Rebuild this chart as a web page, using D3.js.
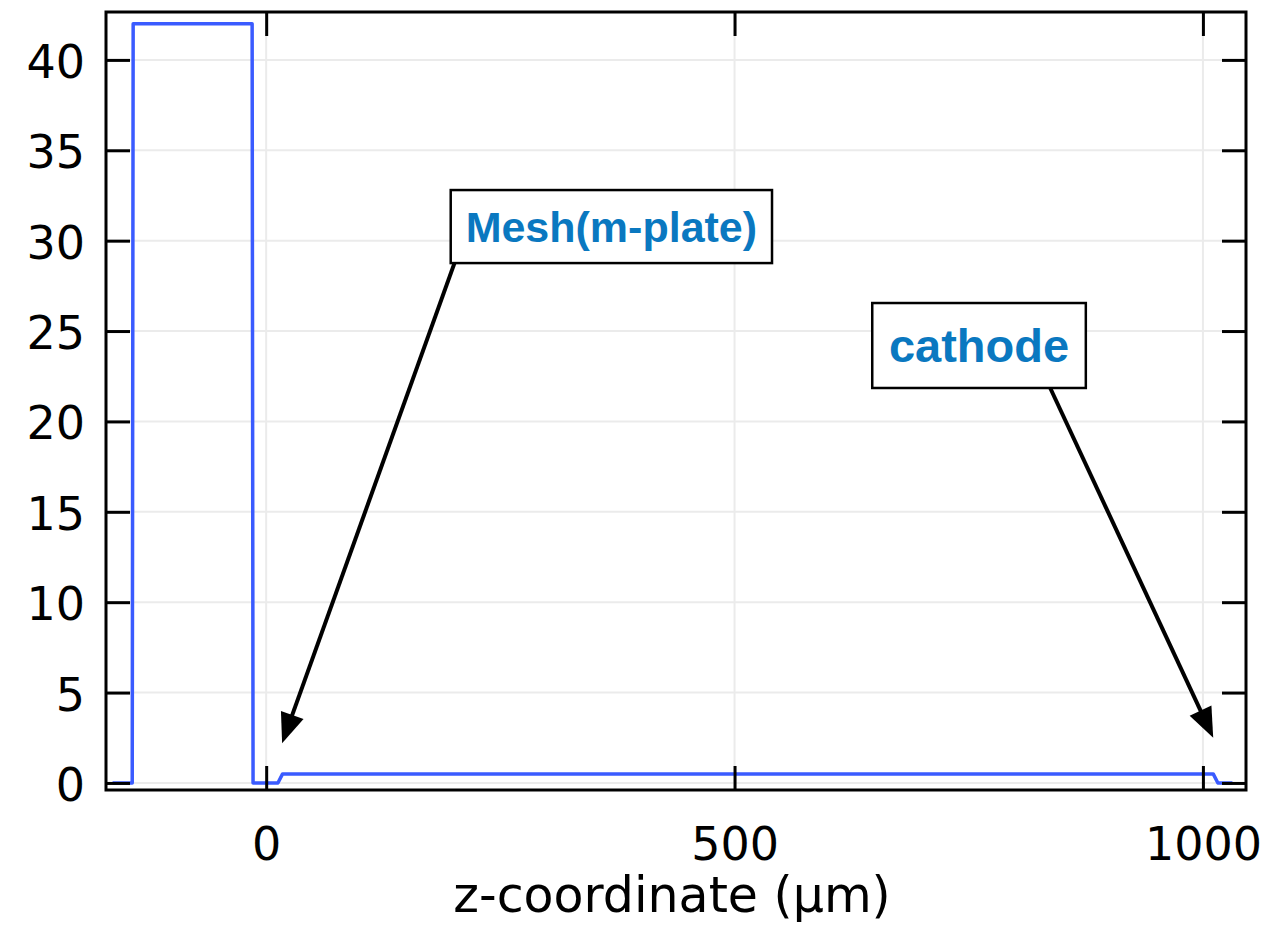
<!DOCTYPE html>
<html>
<head>
<meta charset="utf-8">
<script src="https://cdn.jsdelivr.net/npm/d3@7"></script>
<style>
  body { margin: 0; background: #fff; }
</style>
</head>
<body>
<div id="chart"></div>
<script>
const width = 1281;
const height = 925;
const margin = { top: 12, right: 35, bottom: 135, left: 106 };

// curve
const zValues = [-164, -143, -142, -15, -14, 12.5, 17.5, 1011, 1016, 1031.5];
const fieldValues = [0, 0, 42, 42, 0, 0, 0.5, 0.5, 0, 0];

const xTicks = [0, 500, 1000];
const yTicks = [0, 5, 10, 15, 20, 25, 30, 35, 40];
const xTitle = "z-coordinate (µm)";

// annotations, in data units
const annLabels = ["Mesh(m-plate)", "cathode"];
const annFontSizes = [43, 47];
const annBoxes = [
  [197, 540, 32.8, 28.76],
  [647, 875, 26.55, 21.85],
];
const annFrom = [
  [201, 28.76],
  [837, 21.85],
];
const annTo = [
  [17, 2.2],
  [1011, 2.5],
];

const xScale = d3
  .scaleLinear()
  .domain([-171, 1046])
  .range([margin.left, width - margin.right]);

const yScale = d3
  .scaleLinear()
  .domain([-0.39, 42.65])
  .range([height - margin.bottom, margin.top]);

const svg = d3
  .select("#chart")
  .append("svg")
  .attr("width", width)
  .attr("height", height);

const x0 = margin.left;
const x1 = width - margin.right;
const y0 = height - margin.bottom;
const y1 = margin.top;

// grid
svg
  .append("g")
  .selectAll("line")
  .data(xTicks)
  .join("line")
  .attr("x1", (d) => xScale(d))
  .attr("x2", (d) => xScale(d))
  .attr("y1", y1)
  .attr("y2", y0)
  .attr("stroke", "#ebebeb")
  .attr("stroke-width", 2);

svg
  .append("g")
  .selectAll("line")
  .data(yTicks)
  .join("line")
  .attr("x1", x0)
  .attr("x2", x1)
  .attr("y1", (d) => yScale(d))
  .attr("y2", (d) => yScale(d))
  .attr("stroke", "#ebebeb")
  .attr("stroke-width", 2);

// data line
const line = d3
  .line()
  .x((d, i) => xScale(zValues[i]))
  .y((d) => yScale(d));

svg
  .append("path")
  .datum(fieldValues)
  .attr("d", line)
  .attr("fill", "none")
  .attr("stroke", "#3a5bff")
  .attr("stroke-width", 3.5)
  .attr("stroke-linejoin", "round");

// axes with inward ticks
const tickLen = 24;
const styleAxis = (g) => {
  g.select(".domain").remove();
  g.selectAll(".tick line").attr("stroke", "#000").attr("stroke-width", 3);
  g.selectAll(".tick text")
    .attr("fill", "#000")
    .style("font-family", "'DejaVu Sans', sans-serif")
    .style("font-size", "46px");
};

svg
  .append("g")
  .attr("transform", `translate(0, ${y0})`)
  .call(
    d3
      .axisBottom(xScale)
      .tickValues(xTicks)
      .tickFormat(d3.format("d"))
      .tickSize(-tickLen)
      .tickPadding(37)
  )
  .call(styleAxis);

svg
  .append("g")
  .attr("transform", `translate(0, ${y1})`)
  .call(
    d3.axisTop(xScale).tickValues(xTicks).tickSize(-tickLen).tickFormat("")
  )
  .call(styleAxis);

svg
  .append("g")
  .attr("transform", `translate(${x0}, 0)`)
  .call(
    d3.axisLeft(yScale).tickValues(yTicks).tickSize(-tickLen).tickPadding(21)
  )
  .call(styleAxis)
  .call((g) => g.selectAll(".tick text").attr("dy", "0.38em"));

svg
  .append("g")
  .attr("transform", `translate(${x1}, 0)`)
  .call(
    d3.axisRight(yScale).tickValues(yTicks).tickSize(-tickLen).tickFormat("")
  )
  .call(styleAxis);

// frame
svg
  .append("rect")
  .attr("x", x0)
  .attr("y", y1)
  .attr("width", x1 - x0)
  .attr("height", y0 - y1)
  .attr("fill", "none")
  .attr("stroke", "#000")
  .attr("stroke-width", 3);

// axis title
svg
  .append("text")
  .attr("x", (x0 + x1) / 2 - 4)
  .attr("y", 912)
  .attr("text-anchor", "middle")
  .style("font-family", "'DejaVu Sans', sans-serif")
  .style("font-size", "49px")
  .text(xTitle);

// annotations
const annGroup = svg.append("g");
annLabels.forEach((label, i) => {
  const [ax, ay] = annFrom[i];
  const [tx, ty] = annTo[i];
  const sx = xScale(ax);
  const sy = yScale(ay);
  const ex = xScale(tx);
  const ey = yScale(ty);
  const len = Math.hypot(ex - sx, ey - sy);
  const ux = (ex - sx) / len;
  const uy = (ey - sy) / len;
  const headLen = 30;
  const headHalf = 12;
  const bx = ex - ux * headLen;
  const by = ey - uy * headLen;

  annGroup
    .append("line")
    .attr("x1", sx)
    .attr("y1", sy)
    .attr("x2", bx + ux * 2)
    .attr("y2", by + uy * 2)
    .attr("stroke", "#000")
    .attr("stroke-width", 4);

  annGroup
    .append("polygon")
    .attr(
      "points",
      [
        [ex, ey],
        [bx - uy * headHalf, by + ux * headHalf],
        [bx + uy * headHalf, by - ux * headHalf],
      ]
        .map((p) => p.join(","))
        .join(" ")
    )
    .attr("fill", "#000");

  const [bl, br, bt, bb] = annBoxes[i];
  annGroup
    .append("rect")
    .attr("x", xScale(bl))
    .attr("y", yScale(bt))
    .attr("width", xScale(br) - xScale(bl))
    .attr("height", yScale(bb) - yScale(bt))
    .attr("fill", "#fff")
    .attr("stroke", "#000")
    .attr("stroke-width", 2.5);

  annGroup
    .append("text")
    .attr("x", (xScale(bl) + xScale(br)) / 2)
    .attr("y", (yScale(bt) + yScale(bb)) / 2)
    .attr("dy", "0.36em")
    .attr("text-anchor", "middle")
    .attr("fill", "#0a78c0")
    .style("font-family", "'Liberation Sans', Arial, sans-serif")
    .style("font-weight", "bold")
    .style("font-size", `${annFontSizes[i]}px`)
    .text(label);
});
</script>
</body>
</html>
